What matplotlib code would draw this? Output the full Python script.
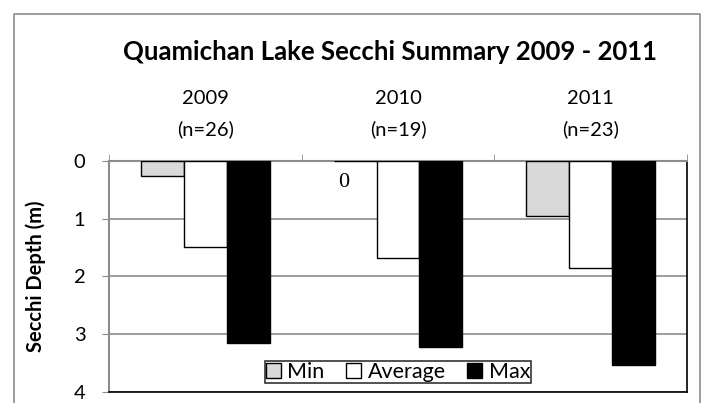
import numpy as np
import matplotlib
matplotlib.use('Agg')
import matplotlib.pyplot as plt
import matplotlib.patches as mpatches
from matplotlib.lines import Line2D

# ── Data ──────────────────────────────────────────────────────────────────────
years = ['2009', '2010', '2011']
counts = [26, 19, 23]
min_depth = [0.27, 0.0, 0.96]
avg_depth = [1.49, 1.68, 1.86]
max_depth = [3.15, 3.22, 3.53]

series = [('Min', min_depth, '#d9d9d9'),
          ('Average', avg_depth, '#ffffff'),
          ('Max', max_depth, '#000000')]

plt.rcParams['font.family'] = ['Lato', 'DejaVu Sans']

fig = plt.figure(figsize=(7.02, 4.03), dpi=100)
ax = fig.add_axes([109 / 702, 1 - 392 / 403, 578 / 702, 231.3 / 403])

# outer chart border (left, top, right)
fig.add_artist(Line2D([14 / 702, 14 / 702, 700 / 702, 700 / 702],
                      [0, 1 - 14 / 403, 1 - 14 / 403, 0],
                      transform=fig.transFigure, color='#8c8c8c', lw=1.2))

x = np.arange(len(years))
w = 0.223
for i, (name, vals, col) in enumerate(series):
    ax.bar(x + (i - 1) * w, vals, width=w, color=col, edgecolor='black',
           linewidth=1.0, label=name, zorder=3)

# label for the zero-valued min bar in 2010
ax.text(x[1] - w - 0.06, 0.38, f'{min_depth[1]:g}', family='Liberation Serif',
        fontsize=16, ha='center', va='center', zorder=4)

ax.set_xlim(-0.5, 2.5)
ax.set_ylim(4, 0)
ax.set_yticks([0, 1, 2, 3, 4])
ax.yaxis.grid(True, color='#8c8c8c', linewidth=1.2, zorder=0)
ax.set_axisbelow(True)

ax.xaxis.tick_top()
ax.set_xticks(x)
ax.set_xticklabels([f'{y}\n(n={n})' for y, n in zip(years, counts)],
                   linespacing=1.9, fontsize=14.5)
ax.set_xticks([-0.5, 0.5, 1.5, 2.5], minor=True)
ax.tick_params(axis='x', which='major', length=0, pad=16)
ax.tick_params(axis='x', which='minor', length=5, color='#8c8c8c', top=True,
               bottom=False, direction='out')
ax.tick_params(axis='y', length=5, color='#8c8c8c', labelsize=14.5, pad=12)

for side in ['top', 'left']:
    ax.spines[side].set_color('#8c8c8c')
    ax.spines[side].set_linewidth(1.5)
for side in ['bottom', 'right']:
    ax.spines[side].set_color('black')
    ax.spines[side].set_linewidth(1.2)

ax.set_ylabel('Secchi Depth (m)', fontsize=14.5, fontweight='bold', labelpad=20)

fig.text(0.555, 1 - 52 / 403, 'Quamichan Lake Secchi Summary 2009 - 2011',
         fontsize=18.5, fontweight='bold', ha='center', va='center')

handles = [mpatches.Patch(facecolor=c, edgecolor='black', label=n)
           for n, _, c in series]
leg = ax.legend(handles=handles, loc='lower center', ncol=3, fontsize=15.5,
                bbox_to_anchor=(0.5, 0.04), frameon=True, fancybox=False,
                handlelength=0.7, handleheight=0.7, handletextpad=0.3,
                columnspacing=1.0, borderpad=0.05, borderaxespad=0)
leg.get_frame().set_edgecolor('black')
leg.get_frame().set_linewidth(1.2)
leg.set_zorder(5)

fig.savefig('out.png', dpi=100)
